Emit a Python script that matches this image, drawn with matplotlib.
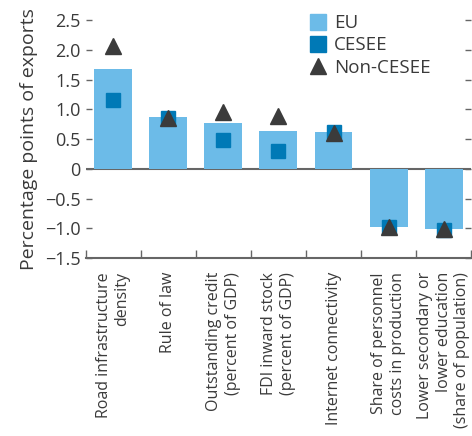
import matplotlib

matplotlib.use("Agg")
import matplotlib.pyplot as plt
from matplotlib.lines import Line2D
import numpy as np

plt.rcParams["font.family"] = ["Open Sans", "DejaVu Sans"]

CATEGORIES = [
    "Road infrastructure\ndensity",
    "Rule of law",
    "Outstanding credit\n(percent of GDP)",
    "FDI inward stock\n(percent of GDP)",
    "Internet connectivity",
    "Share of personnel\ncosts in production",
    "Lower secondary or\nlower education\n(share of population)",
]
EU = [1.67, 0.87, 0.77, 0.63, 0.62, -0.97, -1.01]
CESEE = [1.16, 0.86, 0.48, 0.30, 0.62, -0.97, -1.02]
NON_CESEE = [2.07, 0.86, 0.95, 0.88, 0.61, -0.98, -1.01]
Y_TICKS = [-1.5, -1.0, -0.5, 0, 0.5, 1.0, 1.5, 2.0, 2.5]
Y_TICK_LABELS = ["\u22121.5", "\u22121.0", "\u22120.5", "0", "0.5", "1.0", "1.5", "2.0", "2.5"]

EU_COLOR = "#6cbbe8"
CESEE_COLOR = "#0079b6"
NON_CESEE_COLOR = "#3b3b3b"
AXIS_COLOR = "#666666"
TEXT_COLOR = "#3a3a3a"

fig = plt.figure(figsize=(4.72, 4.36), dpi=100)
ax = fig.add_axes([0.182, 0.408, 0.816, 0.546])

x = np.arange(len(CATEGORIES))
ax.bar(x, EU, width=0.69, color=EU_COLOR, zorder=2)
ax.plot(x, CESEE, linestyle="none", marker="s", markersize=10.5,
        color=CESEE_COLOR, zorder=3)
ax.plot(x, NON_CESEE, linestyle="none", marker="^", markersize=11,
        color=NON_CESEE_COLOR, zorder=4)
ax.axhline(0, color=AXIS_COLOR, linewidth=1.5, zorder=1)

ax.set_xlim(-0.5, len(CATEGORIES) - 0.5)
ax.set_ylim(-1.5, 2.5)
ax.set_yticks(Y_TICKS)
ax.set_yticklabels(Y_TICK_LABELS)
ax.set_xticks(x)
ax.set_xticklabels(CATEGORIES, rotation=90, multialignment="right")
# category boundaries get the small upward ticks on the baseline
ax.set_xticks(np.arange(-0.5, len(CATEGORIES)), minor=True)

for side in ("top", "left", "right"):
    ax.spines[side].set_visible(False)
ax.spines["bottom"].set_color(AXIS_COLOR)
ax.spines["bottom"].set_linewidth(1.5)

ax.tick_params(axis="y", direction="in", length=4.5, width=1.0,
               color=AXIS_COLOR, labelcolor=TEXT_COLOR, labelsize=13,
               right=True, pad=4)
ax.tick_params(axis="x", which="major", length=0, pad=10,
               labelcolor=TEXT_COLOR, labelsize=11.5)
ax.tick_params(axis="x", which="minor", direction="in", length=6, width=1.0,
               color=AXIS_COLOR)

ax.set_ylabel("Percentage points of exports", fontsize=14, color=TEXT_COLOR,
              labelpad=5)

handles = [
    Line2D([], [], linestyle="none", marker="s", markersize=11, color=EU_COLOR),
    Line2D([], [], linestyle="none", marker="s", markersize=11, color=CESEE_COLOR),
    Line2D([], [], linestyle="none", marker="^", markersize=11, color=NON_CESEE_COLOR),
]
ax.legend(handles, ["EU", "CESEE", "Non-CESEE"], loc="upper left",
          bbox_to_anchor=(0.54, 1.095), frameon=False, fontsize=13.5,
          handlelength=0.8, handletextpad=0.45, labelspacing=0.22,
          labelcolor=TEXT_COLOR)

fig.savefig("out.png", dpi=100)
